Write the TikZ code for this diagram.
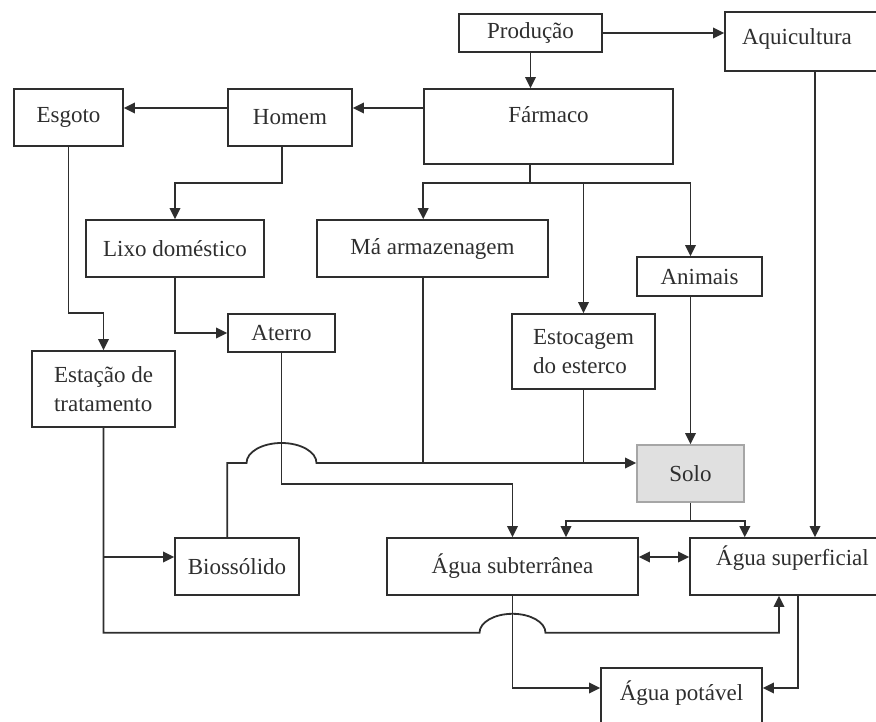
\documentclass[tikz,border=0pt]{standalone}
\usepackage{fontspec}
\setmainfont{Liberation Serif}
\usetikzlibrary{arrows.meta,calc}
\definecolor{tinta}{gray}{0.18}
\definecolor{cinza}{gray}{0.88}
\tikzset{
	>={Triangle[length=11pt,width=10.5pt]},
	bloco/.style={draw=tinta,text=tinta,line width=1.6pt,inner sep=0pt,font=\fontsize{23}{29}\selectfont},
	seta/.style={draw=tinta,line width=1.8pt,->},
	linha/.style={draw=tinta,line width=1.8pt}
}
\begin{document}
\begin{tikzpicture}[x=1pt,y=-1pt]
				\useasboundingbox (0,0) rectangle (876,722);
				\clip (0,0) rectangle (876,722);
				\node[bloco,minimum width=143pt,minimum height=38pt] (prod) at (530.5,33) {Produção};
				\node[bloco,minimum width=180pt,minimum height=59pt,inner xsep=17pt,text width=146pt,align=left,text height=32.5pt,text depth=26.5pt] (aqui) at (815,41.5) {Aquicultura};
				\node[bloco,minimum width=249pt,minimum height=75pt,text height=33.5pt,text depth=41.5pt] (farm) at (548.5,126.5) {Fármaco};
				\node[bloco,minimum width=124pt,minimum height=57pt] (homem) at (290,117.5) {Homem};
				\node[bloco,minimum width=109pt,minimum height=57pt] (esgoto) at (68.5,117.5) {Esgoto};
				\node[bloco,minimum width=178pt,minimum height=57pt] (lixo) at (175,248.5) {Lixo doméstico};
				\node[bloco,minimum width=231pt,minimum height=57pt] (ma) at (432.5,248.5) {Má armazenagem};
				\node[bloco,minimum width=125pt,minimum height=39pt] (animais) at (699.5,276.5) {Animais};
				\node[bloco,minimum width=143pt,minimum height=75pt,align=left] (estoc) at (583.5,351.5) {Estocagem\\do esterco};
				\node[bloco,minimum width=107pt,minimum height=38pt] (aterro) at (281.5,333) {Aterro};
				\node[bloco,minimum width=143pt,minimum height=76pt,align=left] (estacao) at (103.5,389) {Estação de\\tratamento};
				\node[bloco,draw=gray!70,fill=cinza,minimum width=107pt,minimum height=57pt] (solo) at (690.5,473.5) {Solo};
				\node[bloco,minimum width=124pt,minimum height=57pt] (bio) at (237,566.5) {Biossólido};
				\node[bloco,minimum width=251pt,minimum height=57pt] (sub) at (512.5,566.5) {Água subterrânea};
				\node[bloco,minimum width=205pt,minimum height=57pt,text height=27.5pt,text depth=29.5pt] (sup) at (792.5,566.5) {Água superficial};
				\node[bloco,minimum width=161pt,minimum height=72pt,text height=32.5pt,text depth=39.5pt] (potavel) at (681.5,704) {Água potável};
				\coordinate (linha1) at (0,108);
				\coordinate (bus) at ([xshift=-18.5pt,yshift=-18pt]farm.south);
				\coordinate (soloin) at ([yshift=10.5pt]solo.west);
				\coordinate (bioin) at ([yshift=9.5pt]bio.west);
				\coordinate (lowrun) at ([yshift=-37pt]sub.south);
				\coordinate (potin) at ([yshift=16pt]potavel.west);
				\draw[seta] (prod.south) -- (prod.south |- farm.north);
				\draw[seta] (prod.east) -- (aqui.west |- prod.east);
				\draw[seta] (farm.west |- linha1) -- (homem.east |- linha1);
				\draw[seta] (homem.west |- linha1) -- (esgoto.east |- linha1);
				\draw[seta] ([xshift=-8pt]homem.south) -- ++(0,36) -| (lixo.north);
				\draw[linha] ([xshift=-18.5pt]farm.south) -- (bus);
				\draw[seta] (bus) -| (farm.west |- ma.north);
				\draw[seta] (bus) -| (estoc.north);
				\draw[seta] (bus) -| (solo.north |- animais.north);
				\draw[seta] (esgoto.south) -- (esgoto.south |- aterro.north) -| (estacao.north);
				\draw[seta] (lixo.south) |- (aterro.west);
				\draw[linha] (farm.west |- ma.south) -- (farm.west |- soloin);
				\draw[linha] (estoc.south) -- (estoc.south |- soloin);
				\draw[seta] (aterro.west |- bio.north) -- (aterro.west |- soloin) -- ([xshift=-35pt]aterro.south |- soloin) arc[start angle=180,end angle=0,x radius=35pt,y radius=20pt] -- (soloin);
				\draw[seta] (aterro.south) -- ++(0,131) -| (sub.north);
				\draw[seta] (solo.north |- animais.south) -- (solo.north);
				\draw[seta] (solo.south) -- ++(0,18) -| ([xshift=53.5pt]sub.north);
				\draw[seta] (solo.south) -- ++(0,18) -| (solo.east |- sup.north);
				\draw[seta] (aqui.south) -- (aqui.south |- sup.north);
				\draw[seta,<->] ([yshift=9.5pt]sub.east) -- ([yshift=9.5pt]sup.west);
				\draw[seta] (estacao.south) |- ([xshift=-33pt]lowrun) arc[start angle=180,end angle=0,x radius=33pt,y radius=19pt] -| ([xshift=-13.5pt]sup.south);
				\draw[seta] (estacao.south |- bioin) -- (bioin);
				\draw[seta] (sub.south) |- (potin);
				\draw[seta] ([xshift=5.5pt]sup.south) |- (potavel.east |- potin);
			\end{tikzpicture}
\end{document}
